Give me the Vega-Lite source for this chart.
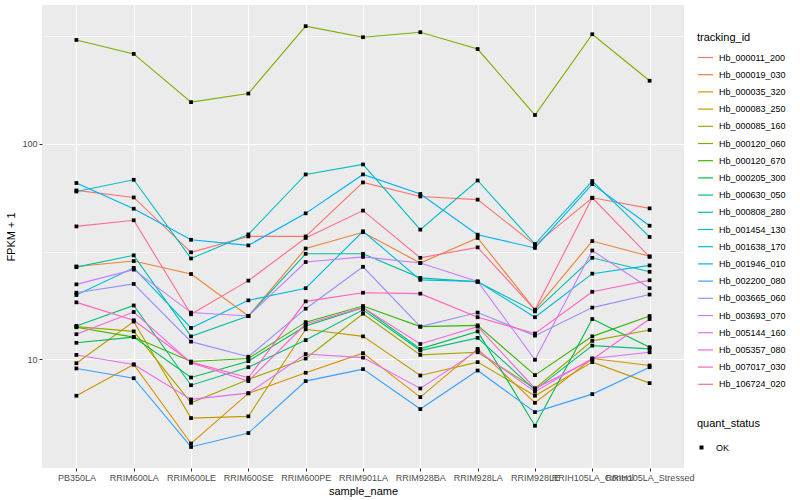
{
"$schema": "https://vega.github.io/schema/vega-lite/v6.json",
"width": 642, "height": 463,
"autosize": {"type": "none"},
"padding": {"left": 42, "top": 5, "right": 116, "bottom": 32},
"background": "white",
"config": {
  "font": "Liberation Sans",
  "view": {"fill": "#EBEBEB", "stroke": null},
  "axis": {"domain": false, "grid": true, "gridColor": "white", "gridWidth": 1.1, "tickColor": "#333333", "tickSize": 3, "tickWidth": 1, "labelColor": "#4D4D4D", "labelFontSize": 9, "titleFontSize": 11, "titleFontWeight": "normal", "titleColor": "black", "labelPadding": 2}
},
"data": {"values": [
{"tracking_id":"Hb_000011_200","sample_name":"PB350LA","FPKM_1":60.8,"quant_status":"OK"},
{"tracking_id":"Hb_000011_200","sample_name":"RRIM600LA","FPKM_1":56.4,"quant_status":"OK"},
{"tracking_id":"Hb_000011_200","sample_name":"RRIM600LE","FPKM_1":31.4,"quant_status":"OK"},
{"tracking_id":"Hb_000011_200","sample_name":"RRIM600SE","FPKM_1":37.2,"quant_status":"OK"},
{"tracking_id":"Hb_000011_200","sample_name":"RRIM600PE","FPKM_1":37.2,"quant_status":"OK"},
{"tracking_id":"Hb_000011_200","sample_name":"RRIM901LA","FPKM_1":66.2,"quant_status":"OK"},
{"tracking_id":"Hb_000011_200","sample_name":"RRIM928BA","FPKM_1":57.0,"quant_status":"OK"},
{"tracking_id":"Hb_000011_200","sample_name":"RRIM928LA","FPKM_1":55.1,"quant_status":"OK"},
{"tracking_id":"Hb_000011_200","sample_name":"RRIM928LE","FPKM_1":34.0,"quant_status":"OK"},
{"tracking_id":"Hb_000011_200","sample_name":"RRIH105LA_Control","FPKM_1":56.2,"quant_status":"OK"},
{"tracking_id":"Hb_000011_200","sample_name":"RRIH105LA_Stressed","FPKM_1":50.2,"quant_status":"OK"},
{"tracking_id":"Hb_000019_030","sample_name":"PB350LA","FPKM_1":27.0,"quant_status":"OK"},
{"tracking_id":"Hb_000019_030","sample_name":"RRIM600LA","FPKM_1":28.6,"quant_status":"OK"},
{"tracking_id":"Hb_000019_030","sample_name":"RRIM600LE","FPKM_1":24.9,"quant_status":"OK"},
{"tracking_id":"Hb_000019_030","sample_name":"RRIM600SE","FPKM_1":15.9,"quant_status":"OK"},
{"tracking_id":"Hb_000019_030","sample_name":"RRIM600PE","FPKM_1":32.7,"quant_status":"OK"},
{"tracking_id":"Hb_000019_030","sample_name":"RRIM901LA","FPKM_1":38.9,"quant_status":"OK"},
{"tracking_id":"Hb_000019_030","sample_name":"RRIM928BA","FPKM_1":28.0,"quant_status":"OK"},
{"tracking_id":"Hb_000019_030","sample_name":"RRIM928LA","FPKM_1":36.6,"quant_status":"OK"},
{"tracking_id":"Hb_000019_030","sample_name":"RRIM928LE","FPKM_1":17.0,"quant_status":"OK"},
{"tracking_id":"Hb_000019_030","sample_name":"RRIH105LA_Control","FPKM_1":35.4,"quant_status":"OK"},
{"tracking_id":"Hb_000019_030","sample_name":"RRIH105LA_Stressed","FPKM_1":30.1,"quant_status":"OK"},
{"tracking_id":"Hb_000035_320","sample_name":"PB350LA","FPKM_1":6.79,"quant_status":"OK"},
{"tracking_id":"Hb_000035_320","sample_name":"RRIM600LA","FPKM_1":9.48,"quant_status":"OK"},
{"tracking_id":"Hb_000035_320","sample_name":"RRIM600LE","FPKM_1":4.08,"quant_status":"OK"},
{"tracking_id":"Hb_000035_320","sample_name":"RRIM600SE","FPKM_1":6.96,"quant_status":"OK"},
{"tracking_id":"Hb_000035_320","sample_name":"RRIM600PE","FPKM_1":8.68,"quant_status":"OK"},
{"tracking_id":"Hb_000035_320","sample_name":"RRIM901LA","FPKM_1":10.7,"quant_status":"OK"},
{"tracking_id":"Hb_000035_320","sample_name":"RRIM928BA","FPKM_1":6.69,"quant_status":"OK"},
{"tracking_id":"Hb_000035_320","sample_name":"RRIM928LA","FPKM_1":11.2,"quant_status":"OK"},
{"tracking_id":"Hb_000035_320","sample_name":"RRIM928LE","FPKM_1":6.30,"quant_status":"OK"},
{"tracking_id":"Hb_000035_320","sample_name":"RRIH105LA_Control","FPKM_1":10.1,"quant_status":"OK"},
{"tracking_id":"Hb_000035_320","sample_name":"RRIH105LA_Stressed","FPKM_1":9.38,"quant_status":"OK"},
{"tracking_id":"Hb_000083_250","sample_name":"PB350LA","FPKM_1":9.61,"quant_status":"OK"},
{"tracking_id":"Hb_000083_250","sample_name":"RRIM600LA","FPKM_1":15.0,"quant_status":"OK"},
{"tracking_id":"Hb_000083_250","sample_name":"RRIM600LE","FPKM_1":5.35,"quant_status":"OK"},
{"tracking_id":"Hb_000083_250","sample_name":"RRIM600SE","FPKM_1":5.45,"quant_status":"OK"},
{"tracking_id":"Hb_000083_250","sample_name":"RRIM600PE","FPKM_1":13.8,"quant_status":"OK"},
{"tracking_id":"Hb_000083_250","sample_name":"RRIM901LA","FPKM_1":12.8,"quant_status":"OK"},
{"tracking_id":"Hb_000083_250","sample_name":"RRIM928BA","FPKM_1":8.43,"quant_status":"OK"},
{"tracking_id":"Hb_000083_250","sample_name":"RRIM928LA","FPKM_1":9.72,"quant_status":"OK"},
{"tracking_id":"Hb_000083_250","sample_name":"RRIM928LE","FPKM_1":6.79,"quant_status":"OK"},
{"tracking_id":"Hb_000083_250","sample_name":"RRIH105LA_Control","FPKM_1":9.72,"quant_status":"OK"},
{"tracking_id":"Hb_000083_250","sample_name":"RRIH105LA_Stressed","FPKM_1":7.77,"quant_status":"OK"},
{"tracking_id":"Hb_000085_160","sample_name":"PB350LA","FPKM_1":14.2,"quant_status":"OK"},
{"tracking_id":"Hb_000085_160","sample_name":"RRIM600LA","FPKM_1":13.5,"quant_status":"OK"},
{"tracking_id":"Hb_000085_160","sample_name":"RRIM600LE","FPKM_1":6.30,"quant_status":"OK"},
{"tracking_id":"Hb_000085_160","sample_name":"RRIM600SE","FPKM_1":8.08,"quant_status":"OK"},
{"tracking_id":"Hb_000085_160","sample_name":"RRIM600PE","FPKM_1":10.1,"quant_status":"OK"},
{"tracking_id":"Hb_000085_160","sample_name":"RRIM901LA","FPKM_1":16.3,"quant_status":"OK"},
{"tracking_id":"Hb_000085_160","sample_name":"RRIM928BA","FPKM_1":10.5,"quant_status":"OK"},
{"tracking_id":"Hb_000085_160","sample_name":"RRIM928LA","FPKM_1":10.8,"quant_status":"OK"},
{"tracking_id":"Hb_000085_160","sample_name":"RRIM928LE","FPKM_1":7.34,"quant_status":"OK"},
{"tracking_id":"Hb_000085_160","sample_name":"RRIH105LA_Control","FPKM_1":12.2,"quant_status":"OK"},
{"tracking_id":"Hb_000085_160","sample_name":"RRIH105LA_Stressed","FPKM_1":13.7,"quant_status":"OK"},
{"tracking_id":"Hb_000120_060","sample_name":"PB350LA","FPKM_1":303,"quant_status":"OK"},
{"tracking_id":"Hb_000120_060","sample_name":"RRIM600LA","FPKM_1":261,"quant_status":"OK"},
{"tracking_id":"Hb_000120_060","sample_name":"RRIM600LE","FPKM_1":156,"quant_status":"OK"},
{"tracking_id":"Hb_000120_060","sample_name":"RRIM600SE","FPKM_1":171,"quant_status":"OK"},
{"tracking_id":"Hb_000120_060","sample_name":"RRIM600PE","FPKM_1":351,"quant_status":"OK"},
{"tracking_id":"Hb_000120_060","sample_name":"RRIM901LA","FPKM_1":312,"quant_status":"OK"},
{"tracking_id":"Hb_000120_060","sample_name":"RRIM928BA","FPKM_1":329,"quant_status":"OK"},
{"tracking_id":"Hb_000120_060","sample_name":"RRIM928LA","FPKM_1":275,"quant_status":"OK"},
{"tracking_id":"Hb_000120_060","sample_name":"RRIM928LE","FPKM_1":136,"quant_status":"OK"},
{"tracking_id":"Hb_000120_060","sample_name":"RRIH105LA_Control","FPKM_1":322,"quant_status":"OK"},
{"tracking_id":"Hb_000120_060","sample_name":"RRIH105LA_Stressed","FPKM_1":196,"quant_status":"OK"},
{"tracking_id":"Hb_000120_670","sample_name":"PB350LA","FPKM_1":14.1,"quant_status":"OK"},
{"tracking_id":"Hb_000120_670","sample_name":"RRIM600LA","FPKM_1":12.7,"quant_status":"OK"},
{"tracking_id":"Hb_000120_670","sample_name":"RRIM600LE","FPKM_1":9.79,"quant_status":"OK"},
{"tracking_id":"Hb_000120_670","sample_name":"RRIM600SE","FPKM_1":10.1,"quant_status":"OK"},
{"tracking_id":"Hb_000120_670","sample_name":"RRIM600PE","FPKM_1":14.9,"quant_status":"OK"},
{"tracking_id":"Hb_000120_670","sample_name":"RRIM901LA","FPKM_1":17.7,"quant_status":"OK"},
{"tracking_id":"Hb_000120_670","sample_name":"RRIM928BA","FPKM_1":14.2,"quant_status":"OK"},
{"tracking_id":"Hb_000120_670","sample_name":"RRIM928LA","FPKM_1":14.4,"quant_status":"OK"},
{"tracking_id":"Hb_000120_670","sample_name":"RRIM928LE","FPKM_1":8.46,"quant_status":"OK"},
{"tracking_id":"Hb_000120_670","sample_name":"RRIH105LA_Control","FPKM_1":12.8,"quant_status":"OK"},
{"tracking_id":"Hb_000120_670","sample_name":"RRIH105LA_Stressed","FPKM_1":15.9,"quant_status":"OK"},
{"tracking_id":"Hb_000205_300","sample_name":"PB350LA","FPKM_1":11.95,"quant_status":"OK"},
{"tracking_id":"Hb_000205_300","sample_name":"RRIM600LA","FPKM_1":12.7,"quant_status":"OK"},
{"tracking_id":"Hb_000205_300","sample_name":"RRIM600LE","FPKM_1":8.25,"quant_status":"OK"},
{"tracking_id":"Hb_000205_300","sample_name":"RRIM600SE","FPKM_1":9.82,"quant_status":"OK"},
{"tracking_id":"Hb_000205_300","sample_name":"RRIM600PE","FPKM_1":14.3,"quant_status":"OK"},
{"tracking_id":"Hb_000205_300","sample_name":"RRIM901LA","FPKM_1":17.4,"quant_status":"OK"},
{"tracking_id":"Hb_000205_300","sample_name":"RRIM928BA","FPKM_1":11.2,"quant_status":"OK"},
{"tracking_id":"Hb_000205_300","sample_name":"RRIM928LA","FPKM_1":13.5,"quant_status":"OK"},
{"tracking_id":"Hb_000205_300","sample_name":"RRIM928LE","FPKM_1":4.93,"quant_status":"OK"},
{"tracking_id":"Hb_000205_300","sample_name":"RRIH105LA_Control","FPKM_1":15.4,"quant_status":"OK"},
{"tracking_id":"Hb_000205_300","sample_name":"RRIH105LA_Stressed","FPKM_1":11.4,"quant_status":"OK"},
{"tracking_id":"Hb_000630_050","sample_name":"PB350LA","FPKM_1":14.3,"quant_status":"OK"},
{"tracking_id":"Hb_000630_050","sample_name":"RRIM600LA","FPKM_1":17.8,"quant_status":"OK"},
{"tracking_id":"Hb_000630_050","sample_name":"RRIM600LE","FPKM_1":7.60,"quant_status":"OK"},
{"tracking_id":"Hb_000630_050","sample_name":"RRIM600SE","FPKM_1":9.21,"quant_status":"OK"},
{"tracking_id":"Hb_000630_050","sample_name":"RRIM600PE","FPKM_1":12.3,"quant_status":"OK"},
{"tracking_id":"Hb_000630_050","sample_name":"RRIM901LA","FPKM_1":17.0,"quant_status":"OK"},
{"tracking_id":"Hb_000630_050","sample_name":"RRIM928BA","FPKM_1":11.0,"quant_status":"OK"},
{"tracking_id":"Hb_000630_050","sample_name":"RRIM928LA","FPKM_1":12.6,"quant_status":"OK"},
{"tracking_id":"Hb_000630_050","sample_name":"RRIM928LE","FPKM_1":7.21,"quant_status":"OK"},
{"tracking_id":"Hb_000630_050","sample_name":"RRIH105LA_Control","FPKM_1":11.6,"quant_status":"OK"},
{"tracking_id":"Hb_000630_050","sample_name":"RRIH105LA_Stressed","FPKM_1":11.2,"quant_status":"OK"},
{"tracking_id":"Hb_000808_280","sample_name":"PB350LA","FPKM_1":26.8,"quant_status":"OK"},
{"tracking_id":"Hb_000808_280","sample_name":"RRIM600LA","FPKM_1":30.4,"quant_status":"OK"},
{"tracking_id":"Hb_000808_280","sample_name":"RRIM600LE","FPKM_1":12.8,"quant_status":"OK"},
{"tracking_id":"Hb_000808_280","sample_name":"RRIM600SE","FPKM_1":15.9,"quant_status":"OK"},
{"tracking_id":"Hb_000808_280","sample_name":"RRIM600PE","FPKM_1":30.9,"quant_status":"OK"},
{"tracking_id":"Hb_000808_280","sample_name":"RRIM901LA","FPKM_1":30.9,"quant_status":"OK"},
{"tracking_id":"Hb_000808_280","sample_name":"RRIM928BA","FPKM_1":23.9,"quant_status":"OK"},
{"tracking_id":"Hb_000808_280","sample_name":"RRIM928LA","FPKM_1":22.9,"quant_status":"OK"},
{"tracking_id":"Hb_000808_280","sample_name":"RRIM928LE","FPKM_1":16.7,"quant_status":"OK"},
{"tracking_id":"Hb_000808_280","sample_name":"RRIH105LA_Control","FPKM_1":29.6,"quant_status":"OK"},
{"tracking_id":"Hb_000808_280","sample_name":"RRIH105LA_Stressed","FPKM_1":25.5,"quant_status":"OK"},
{"tracking_id":"Hb_001454_130","sample_name":"PB350LA","FPKM_1":60.1,"quant_status":"OK"},
{"tracking_id":"Hb_001454_130","sample_name":"RRIM600LA","FPKM_1":68.1,"quant_status":"OK"},
{"tracking_id":"Hb_001454_130","sample_name":"RRIM600LE","FPKM_1":29.4,"quant_status":"OK"},
{"tracking_id":"Hb_001454_130","sample_name":"RRIM600SE","FPKM_1":38.0,"quant_status":"OK"},
{"tracking_id":"Hb_001454_130","sample_name":"RRIM600PE","FPKM_1":72.1,"quant_status":"OK"},
{"tracking_id":"Hb_001454_130","sample_name":"RRIM901LA","FPKM_1":80.2,"quant_status":"OK"},
{"tracking_id":"Hb_001454_130","sample_name":"RRIM928BA","FPKM_1":40.0,"quant_status":"OK"},
{"tracking_id":"Hb_001454_130","sample_name":"RRIM928LA","FPKM_1":67.6,"quant_status":"OK"},
{"tracking_id":"Hb_001454_130","sample_name":"RRIM928LE","FPKM_1":34.3,"quant_status":"OK"},
{"tracking_id":"Hb_001454_130","sample_name":"RRIH105LA_Control","FPKM_1":67.2,"quant_status":"OK"},
{"tracking_id":"Hb_001454_130","sample_name":"RRIH105LA_Stressed","FPKM_1":37.0,"quant_status":"OK"},
{"tracking_id":"Hb_001638_170","sample_name":"PB350LA","FPKM_1":19.9,"quant_status":"OK"},
{"tracking_id":"Hb_001638_170","sample_name":"RRIM600LA","FPKM_1":26.6,"quant_status":"OK"},
{"tracking_id":"Hb_001638_170","sample_name":"RRIM600LE","FPKM_1":14.0,"quant_status":"OK"},
{"tracking_id":"Hb_001638_170","sample_name":"RRIM600SE","FPKM_1":18.8,"quant_status":"OK"},
{"tracking_id":"Hb_001638_170","sample_name":"RRIM600PE","FPKM_1":21.4,"quant_status":"OK"},
{"tracking_id":"Hb_001638_170","sample_name":"RRIM901LA","FPKM_1":39.3,"quant_status":"OK"},
{"tracking_id":"Hb_001638_170","sample_name":"RRIM928BA","FPKM_1":23.4,"quant_status":"OK"},
{"tracking_id":"Hb_001638_170","sample_name":"RRIM928LA","FPKM_1":23.0,"quant_status":"OK"},
{"tracking_id":"Hb_001638_170","sample_name":"RRIM928LE","FPKM_1":15.7,"quant_status":"OK"},
{"tracking_id":"Hb_001638_170","sample_name":"RRIH105LA_Control","FPKM_1":25.0,"quant_status":"OK"},
{"tracking_id":"Hb_001638_170","sample_name":"RRIH105LA_Stressed","FPKM_1":27.3,"quant_status":"OK"},
{"tracking_id":"Hb_001946_010","sample_name":"PB350LA","FPKM_1":65.8,"quant_status":"OK"},
{"tracking_id":"Hb_001946_010","sample_name":"RRIM600LA","FPKM_1":50.0,"quant_status":"OK"},
{"tracking_id":"Hb_001946_010","sample_name":"RRIM600LE","FPKM_1":35.9,"quant_status":"OK"},
{"tracking_id":"Hb_001946_010","sample_name":"RRIM600SE","FPKM_1":33.8,"quant_status":"OK"},
{"tracking_id":"Hb_001946_010","sample_name":"RRIM600PE","FPKM_1":47.6,"quant_status":"OK"},
{"tracking_id":"Hb_001946_010","sample_name":"RRIM901LA","FPKM_1":72.1,"quant_status":"OK"},
{"tracking_id":"Hb_001946_010","sample_name":"RRIM928BA","FPKM_1":58.5,"quant_status":"OK"},
{"tracking_id":"Hb_001946_010","sample_name":"RRIM928LA","FPKM_1":37.9,"quant_status":"OK"},
{"tracking_id":"Hb_001946_010","sample_name":"RRIM928LE","FPKM_1":32.9,"quant_status":"OK"},
{"tracking_id":"Hb_001946_010","sample_name":"RRIH105LA_Control","FPKM_1":65.0,"quant_status":"OK"},
{"tracking_id":"Hb_001946_010","sample_name":"RRIH105LA_Stressed","FPKM_1":41.7,"quant_status":"OK"},
{"tracking_id":"Hb_002200_080","sample_name":"PB350LA","FPKM_1":9.09,"quant_status":"OK"},
{"tracking_id":"Hb_002200_080","sample_name":"RRIM600LA","FPKM_1":8.19,"quant_status":"OK"},
{"tracking_id":"Hb_002200_080","sample_name":"RRIM600LE","FPKM_1":3.93,"quant_status":"OK"},
{"tracking_id":"Hb_002200_080","sample_name":"RRIM600SE","FPKM_1":4.56,"quant_status":"OK"},
{"tracking_id":"Hb_002200_080","sample_name":"RRIM600PE","FPKM_1":7.94,"quant_status":"OK"},
{"tracking_id":"Hb_002200_080","sample_name":"RRIM901LA","FPKM_1":9.02,"quant_status":"OK"},
{"tracking_id":"Hb_002200_080","sample_name":"RRIM928BA","FPKM_1":5.89,"quant_status":"OK"},
{"tracking_id":"Hb_002200_080","sample_name":"RRIM928LA","FPKM_1":8.89,"quant_status":"OK"},
{"tracking_id":"Hb_002200_080","sample_name":"RRIM928LE","FPKM_1":5.70,"quant_status":"OK"},
{"tracking_id":"Hb_002200_080","sample_name":"RRIH105LA_Control","FPKM_1":6.91,"quant_status":"OK"},
{"tracking_id":"Hb_002200_080","sample_name":"RRIH105LA_Stressed","FPKM_1":9.21,"quant_status":"OK"},
{"tracking_id":"Hb_003665_060","sample_name":"PB350LA","FPKM_1":20.4,"quant_status":"OK"},
{"tracking_id":"Hb_003665_060","sample_name":"RRIM600LA","FPKM_1":22.4,"quant_status":"OK"},
{"tracking_id":"Hb_003665_060","sample_name":"RRIM600LE","FPKM_1":12.1,"quant_status":"OK"},
{"tracking_id":"Hb_003665_060","sample_name":"RRIM600SE","FPKM_1":10.3,"quant_status":"OK"},
{"tracking_id":"Hb_003665_060","sample_name":"RRIM600PE","FPKM_1":17.2,"quant_status":"OK"},
{"tracking_id":"Hb_003665_060","sample_name":"RRIM901LA","FPKM_1":26.9,"quant_status":"OK"},
{"tracking_id":"Hb_003665_060","sample_name":"RRIM928BA","FPKM_1":14.2,"quant_status":"OK"},
{"tracking_id":"Hb_003665_060","sample_name":"RRIM928LA","FPKM_1":16.5,"quant_status":"OK"},
{"tracking_id":"Hb_003665_060","sample_name":"RRIM928LE","FPKM_1":12.9,"quant_status":"OK"},
{"tracking_id":"Hb_003665_060","sample_name":"RRIH105LA_Control","FPKM_1":17.4,"quant_status":"OK"},
{"tracking_id":"Hb_003665_060","sample_name":"RRIH105LA_Stressed","FPKM_1":20.0,"quant_status":"OK"},
{"tracking_id":"Hb_003693_070","sample_name":"PB350LA","FPKM_1":22.3,"quant_status":"OK"},
{"tracking_id":"Hb_003693_070","sample_name":"RRIM600LA","FPKM_1":26.1,"quant_status":"OK"},
{"tracking_id":"Hb_003693_070","sample_name":"RRIM600LE","FPKM_1":16.5,"quant_status":"OK"},
{"tracking_id":"Hb_003693_070","sample_name":"RRIM600SE","FPKM_1":15.9,"quant_status":"OK"},
{"tracking_id":"Hb_003693_070","sample_name":"RRIM600PE","FPKM_1":28.3,"quant_status":"OK"},
{"tracking_id":"Hb_003693_070","sample_name":"RRIM901LA","FPKM_1":29.9,"quant_status":"OK"},
{"tracking_id":"Hb_003693_070","sample_name":"RRIM928BA","FPKM_1":28.0,"quant_status":"OK"},
{"tracking_id":"Hb_003693_070","sample_name":"RRIM928LA","FPKM_1":23.0,"quant_status":"OK"},
{"tracking_id":"Hb_003693_070","sample_name":"RRIM928LE","FPKM_1":9.97,"quant_status":"OK"},
{"tracking_id":"Hb_003693_070","sample_name":"RRIH105LA_Control","FPKM_1":32.0,"quant_status":"OK"},
{"tracking_id":"Hb_003693_070","sample_name":"RRIH105LA_Stressed","FPKM_1":21.4,"quant_status":"OK"},
{"tracking_id":"Hb_005144_160","sample_name":"PB350LA","FPKM_1":10.5,"quant_status":"OK"},
{"tracking_id":"Hb_005144_160","sample_name":"RRIM600LA","FPKM_1":9.48,"quant_status":"OK"},
{"tracking_id":"Hb_005144_160","sample_name":"RRIM600LE","FPKM_1":6.53,"quant_status":"OK"},
{"tracking_id":"Hb_005144_160","sample_name":"RRIM600SE","FPKM_1":6.98,"quant_status":"OK"},
{"tracking_id":"Hb_005144_160","sample_name":"RRIM600PE","FPKM_1":10.6,"quant_status":"OK"},
{"tracking_id":"Hb_005144_160","sample_name":"RRIM901LA","FPKM_1":10.2,"quant_status":"OK"},
{"tracking_id":"Hb_005144_160","sample_name":"RRIM928BA","FPKM_1":7.34,"quant_status":"OK"},
{"tracking_id":"Hb_005144_160","sample_name":"RRIM928LA","FPKM_1":11.0,"quant_status":"OK"},
{"tracking_id":"Hb_005144_160","sample_name":"RRIM928LE","FPKM_1":7.09,"quant_status":"OK"},
{"tracking_id":"Hb_005144_160","sample_name":"RRIH105LA_Control","FPKM_1":10.1,"quant_status":"OK"},
{"tracking_id":"Hb_005144_160","sample_name":"RRIH105LA_Stressed","FPKM_1":10.8,"quant_status":"OK"},
{"tracking_id":"Hb_005357_080","sample_name":"PB350LA","FPKM_1":13.1,"quant_status":"OK"},
{"tracking_id":"Hb_005357_080","sample_name":"RRIM600LA","FPKM_1":16.6,"quant_status":"OK"},
{"tracking_id":"Hb_005357_080","sample_name":"RRIM600LE","FPKM_1":9.65,"quant_status":"OK"},
{"tracking_id":"Hb_005357_080","sample_name":"RRIM600SE","FPKM_1":7.94,"quant_status":"OK"},
{"tracking_id":"Hb_005357_080","sample_name":"RRIM600PE","FPKM_1":14.6,"quant_status":"OK"},
{"tracking_id":"Hb_005357_080","sample_name":"RRIM901LA","FPKM_1":17.4,"quant_status":"OK"},
{"tracking_id":"Hb_005357_080","sample_name":"RRIM928BA","FPKM_1":11.8,"quant_status":"OK"},
{"tracking_id":"Hb_005357_080","sample_name":"RRIM928LA","FPKM_1":14.2,"quant_status":"OK"},
{"tracking_id":"Hb_005357_080","sample_name":"RRIM928LE","FPKM_1":7.34,"quant_status":"OK"},
{"tracking_id":"Hb_005357_080","sample_name":"RRIH105LA_Control","FPKM_1":10.0,"quant_status":"OK"},
{"tracking_id":"Hb_005357_080","sample_name":"RRIH105LA_Stressed","FPKM_1":15.4,"quant_status":"OK"},
{"tracking_id":"Hb_007017_030","sample_name":"PB350LA","FPKM_1":18.4,"quant_status":"OK"},
{"tracking_id":"Hb_007017_030","sample_name":"RRIM600LA","FPKM_1":15.2,"quant_status":"OK"},
{"tracking_id":"Hb_007017_030","sample_name":"RRIM600LE","FPKM_1":9.72,"quant_status":"OK"},
{"tracking_id":"Hb_007017_030","sample_name":"RRIM600SE","FPKM_1":8.23,"quant_status":"OK"},
{"tracking_id":"Hb_007017_030","sample_name":"RRIM600PE","FPKM_1":18.6,"quant_status":"OK"},
{"tracking_id":"Hb_007017_030","sample_name":"RRIM901LA","FPKM_1":20.4,"quant_status":"OK"},
{"tracking_id":"Hb_007017_030","sample_name":"RRIM928BA","FPKM_1":20.2,"quant_status":"OK"},
{"tracking_id":"Hb_007017_030","sample_name":"RRIM928LA","FPKM_1":15.7,"quant_status":"OK"},
{"tracking_id":"Hb_007017_030","sample_name":"RRIM928LE","FPKM_1":13.2,"quant_status":"OK"},
{"tracking_id":"Hb_007017_030","sample_name":"RRIH105LA_Control","FPKM_1":20.6,"quant_status":"OK"},
{"tracking_id":"Hb_007017_030","sample_name":"RRIH105LA_Stressed","FPKM_1":23.3,"quant_status":"OK"},
{"tracking_id":"Hb_106724_020","sample_name":"PB350LA","FPKM_1":41.4,"quant_status":"OK"},
{"tracking_id":"Hb_106724_020","sample_name":"RRIM600LA","FPKM_1":44.2,"quant_status":"OK"},
{"tracking_id":"Hb_106724_020","sample_name":"RRIM600LE","FPKM_1":16.2,"quant_status":"OK"},
{"tracking_id":"Hb_106724_020","sample_name":"RRIM600SE","FPKM_1":23.2,"quant_status":"OK"},
{"tracking_id":"Hb_106724_020","sample_name":"RRIM600PE","FPKM_1":36.6,"quant_status":"OK"},
{"tracking_id":"Hb_106724_020","sample_name":"RRIM901LA","FPKM_1":49.0,"quant_status":"OK"},
{"tracking_id":"Hb_106724_020","sample_name":"RRIM928BA","FPKM_1":29.6,"quant_status":"OK"},
{"tracking_id":"Hb_106724_020","sample_name":"RRIM928LA","FPKM_1":33.1,"quant_status":"OK"},
{"tracking_id":"Hb_106724_020","sample_name":"RRIM928LE","FPKM_1":17.0,"quant_status":"OK"},
{"tracking_id":"Hb_106724_020","sample_name":"RRIH105LA_Control","FPKM_1":56.2,"quant_status":"OK"},
{"tracking_id":"Hb_106724_020","sample_name":"RRIH105LA_Stressed","FPKM_1":29.9,"quant_status":"OK"}
]},
"encoding": {
  "x": {"field": "sample_name", "type": "nominal",
        "sort": ["PB350LA","RRIM600LA","RRIM600LE","RRIM600SE","RRIM600PE","RRIM901LA","RRIM928BA","RRIM928LA","RRIM928LE","RRIH105LA_Control","RRIH105LA_Stressed"],
        "scale": {"type": "point", "padding": 0.6},
        "axis": {"title": "sample_name", "labelAngle": 0, "labelOverlap": false, "titlePadding": 3}},
  "y": {"field": "FPKM_1", "type": "quantitative",
        "scale": {"type": "log", "domain": [3.14, 440], "nice": false, "zero": false},
        "axis": {"title": "FPKM + 1", "values": [10, 31.6228, 100, 316.228],
                 "labelExpr": "datum.value == 10 ? '10' : (datum.value == 100 ? '100' : '')",
                 "gridWidth": {"condition": {"test": "datum.value == 10 || datum.value == 100", "value": 1.1}, "value": 0.55},
                 "tickOpacity": {"condition": {"test": "datum.value == 10 || datum.value == 100", "value": 1}, "value": 0},
                 "titlePadding": 5}}
},
"layer": [
  {"mark": {"type": "line", "strokeWidth": 1.1},
   "encoding": {
     "color": {"field": "tracking_id", "type": "nominal",
       "scale": {"domain": ["Hb_000011_200","Hb_000019_030","Hb_000035_320","Hb_000083_250","Hb_000085_160","Hb_000120_060","Hb_000120_670","Hb_000205_300","Hb_000630_050","Hb_000808_280","Hb_001454_130","Hb_001638_170","Hb_001946_010","Hb_002200_080","Hb_003665_060","Hb_003693_070","Hb_005144_160","Hb_005357_080","Hb_007017_030","Hb_106724_020"],
                 "range": ["#F8766D","#EA8331","#D89000","#C09B00","#A3A500","#7CAE00","#39B600","#00BB4E","#00BF7D","#00C1A3","#00BFC4","#00BAE0","#00B0F6","#35A2FF","#9590FF","#C77CFF","#E76BF3","#FA62DB","#FF62BC","#FF6C91"]},
       "legend": {"title": "tracking_id", "orient": "none", "legendX": 655, "legendY": 27,
                  "symbolType": "stroke", "symbolSize": 225, "symbolStrokeWidth": 1.2,
                  "labelFontSize": 9, "labelColor": "black", "labelOffset": 5,
                  "titleFontSize": 11, "titleFontWeight": "normal", "titleColor": "black", "titlePadding": 6,
                  "rowPadding": 3.2, "padding": 0,
                  "encode": {"symbols": {"update": {"stroke": {"scale": "color", "field": "value"}, "strokeWidth": {"value": 1.2}}}}}}
   }},
  {"mark": {"type": "point", "filled": true, "color": "black", "size": 14, "opacity": 1},
   "encoding": {
     "shape": {"field": "quant_status", "type": "nominal", "scale": {"range": ["square"]},
       "legend": {"title": "quant_status", "orient": "none", "legendX": 655, "legendY": 413,
                  "symbolSize": 16, "symbolFillColor": "black", "symbolStrokeColor": "black",
                  "labelFontSize": 9, "labelColor": "black", "labelOffset": 10,
                  "titleFontSize": 11, "titleFontWeight": "normal", "titleColor": "black", "titlePadding": 14, "padding": 0}}
   }}
]
}
